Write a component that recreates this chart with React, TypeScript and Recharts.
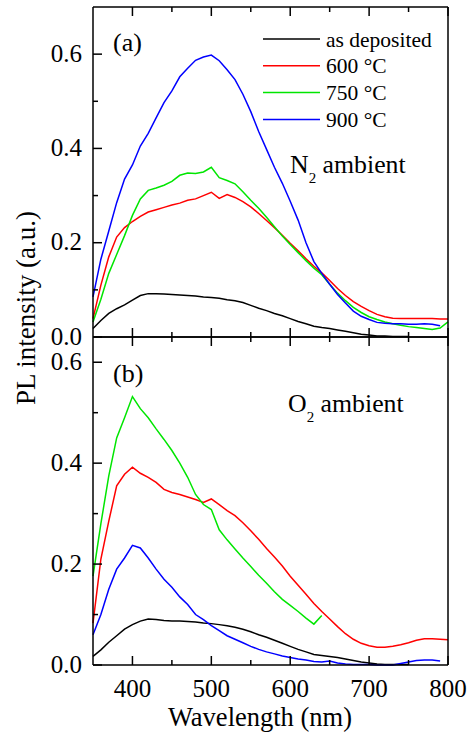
import React from 'react';
import { LineChart, Line, XAxis, YAxis, Legend } from 'recharts';

// wavelength grid (nm), shared by both panels
const wavelength = [
  350, 360, 370, 380, 390, 400, 410, 420, 430, 440, 450, 460, 470, 480, 490, 500,
  510, 520, 530, 540, 550, 560, 570, 580, 590, 600, 610, 620, 630, 640, 650, 660,
  670, 680, 690, 700, 710, 720, 730, 740, 750, 760, 770, 780, 790, 800,
];

// (a) N2 ambient
const asDepA = [
  0.018, 0.035, 0.05, 0.06, 0.068, 0.078, 0.088, 0.092, 0.092, 0.091, 0.09, 0.089, 0.088, 0.087, 0.085, 0.084,
  0.082, 0.079, 0.077, 0.073, 0.067, 0.061, 0.056, 0.05, 0.045, 0.039, 0.033, 0.028, 0.023, 0.02, 0.018, 0.015,
  0.012, 0.009, 0.006, 0.004, 0.002, 0.002, 0.001, 0.001, 0.001, null, null, null, null, null,
];
const t600A = [
  0.039, 0.11, 0.17, 0.212, 0.232, 0.245, 0.256, 0.265, 0.27, 0.275, 0.28, 0.284, 0.29, 0.293, 0.3, 0.307,
  0.294, 0.302, 0.296, 0.287, 0.276, 0.262, 0.247, 0.232, 0.216, 0.199, 0.183, 0.166, 0.15, 0.136, 0.12, 0.103,
  0.088, 0.075, 0.065, 0.056, 0.048, 0.043, 0.04, 0.039, 0.039, 0.039, 0.039, 0.039, 0.038, 0.038,
];
const t750A = [
  0.032, 0.08, 0.135, 0.175, 0.215, 0.258, 0.293, 0.311, 0.316, 0.322, 0.33, 0.343, 0.348, 0.347, 0.35, 0.36,
  0.338, 0.332, 0.325, 0.308, 0.29, 0.273, 0.254, 0.234, 0.214, 0.196, 0.179, 0.162, 0.146, 0.132, 0.112, 0.093,
  0.077, 0.063, 0.052, 0.043, 0.037, 0.032, 0.028, 0.025, 0.022, 0.02, 0.018, 0.016, 0.019, 0.032,
];
const t900A = [
  0.085, 0.165, 0.225, 0.285, 0.335, 0.365, 0.405, 0.432, 0.465, 0.497, 0.522, 0.552, 0.57, 0.587, 0.594, 0.598,
  0.586, 0.567, 0.546, 0.515, 0.478, 0.436, 0.398, 0.36, 0.326, 0.288, 0.248, 0.2, 0.16, 0.135, 0.112, 0.09,
  0.072, 0.055, 0.044, 0.037, 0.031, 0.029, 0.028, 0.028, 0.027, 0.027, 0.028, 0.027, 0.024, null,
];

// (b) O2 ambient
const asDepB = [
  0.017, 0.03, 0.045, 0.058, 0.071, 0.08, 0.087, 0.091, 0.09, 0.088, 0.087, 0.087, 0.086, 0.085, 0.083, 0.082,
  0.08, 0.078, 0.075, 0.071, 0.066, 0.06, 0.055, 0.049, 0.043, 0.037, 0.031, 0.026, 0.021, 0.019, 0.017, 0.015,
  0.012, 0.009, 0.006, 0.004, 0.002, 0.001, 0.001, 0.001, 0.001, null, null, null, null, null,
];
const t600B = [
  0.083, 0.21, 0.285, 0.355, 0.378, 0.392, 0.38, 0.372, 0.362, 0.348, 0.342, 0.338, 0.333, 0.328, 0.322, 0.329,
  0.318, 0.306, 0.296, 0.282, 0.266, 0.249, 0.231, 0.214, 0.196, 0.176, 0.158, 0.14, 0.122, 0.106, 0.091, 0.076,
  0.062, 0.051, 0.043, 0.038, 0.035, 0.035, 0.037, 0.04, 0.044, 0.049, 0.052, 0.052, 0.051, 0.05,
];
const t750B = [
  0.176, 0.28, 0.375, 0.45, 0.49, 0.532, 0.508, 0.49, 0.468, 0.447, 0.425, 0.4, 0.372, 0.338, 0.318, 0.308,
  0.268, 0.248, 0.23, 0.212, 0.195, 0.178, 0.162, 0.145, 0.13, 0.118, 0.106, 0.093, 0.081, 0.098, null, null,
  null, null, null, null, null, null, null, null, null, null, null, null, null, null,
];
const t900B = [
  0.06, 0.1, 0.15, 0.19, 0.212, 0.237, 0.232, 0.212, 0.19, 0.17, 0.154, 0.135, 0.12, 0.1, 0.09, 0.078,
  0.068, 0.058, 0.051, 0.044, 0.037, 0.031, 0.026, 0.022, 0.018, 0.015, 0.012, 0.01, 0.007, 0.006, 0.008, 0.004,
  0.002, 0.001, 0.001, 0.001, 0, 0, 0, 0.003, 0.006, 0.009, 0.01, 0.01, 0.008, null,
];

const seriesNames = ['as deposited', '600 °C', '750 °C', '900 °C'];
const seriesColors = ['#000000', '#ff0000', '#00e600', '#0000ff'];

const xTicks = [400, 450, 500, 550, 600, 650, 700, 750, 800];
const xMajor = [400, 500, 600, 700, 800];
const yTicks = [0, 0.1, 0.2, 0.3, 0.4, 0.5, 0.6];
const yMajor = [0, 0.2, 0.4, 0.6];

const FONT = '"Liberation Serif", "Times New Roman", Times, serif';

const buildRows = (s: (number | null)[][]) =>
  wavelength.map((wl, i) => ({ wl, s0: s[0][i], s1: s[1][i], s2: s[2][i], s3: s[3][i] }));

const rowsA = buildRows([asDepA, t600A, t750A, t900A]);
const rowsB = buildRows([asDepB, t600B, t750B, t900B]);

// inward tick marks (major/minor) with optional labels
function makeTick(side: 'top' | 'bottom' | 'left' | 'right', majors: number[], labels: boolean) {
  return (props: any) => {
    const { x, y, payload } = props;
    const v = payload.value;
    const major = majors.some((m) => Math.abs(m - v) < 1e-9);
    const len = major ? 9 : 5;
    let x2 = x, y2 = y;
    if (side === 'bottom') y2 = y - len;
    if (side === 'top') y2 = y + len;
    if (side === 'left') x2 = x + len;
    if (side === 'right') x2 = x - len;
    return (
      <g>
        <line x1={x} y1={y} x2={x2} y2={y2} stroke="#000" strokeWidth={1.5} />
        {labels && major && side === 'bottom' && (
          <text x={x} y={y + 32} textAnchor="middle" fontSize={25} style={{ fontFamily: FONT }} fill="#000">
            {v}
          </text>
        )}
        {labels && major && side === 'left' && (
          <text x={x - 11} y={y + 7.5} textAnchor="end" fontSize={25} style={{ fontFamily: FONT }} fill="#000">
            {v.toFixed(1)}
          </text>
        )}
      </g>
    );
  };
}

// keep legend in series order (recharts sorts by value otherwise)
const LegendBox = (props: any) => {
  const items = [...(props.payload || [])].sort(
    (a: any, b: any) => seriesNames.indexOf(a.value) - seriesNames.indexOf(b.value)
  );
  return (
    <svg width={200} height={110}>
      {items.map((it: any, i: number) => (
        <g key={i}>
          <line x1={1} x2={58} y1={12 + i * 26.8} y2={12 + i * 26.8} stroke={it.color} strokeWidth={1.5} />
          <text x={64} y={19.5 + i * 26.8} fontSize={21.5} style={{ fontFamily: FONT }} fill="#000">
            {it.value}
          </text>
        </g>
      ))}
    </svg>
  );
};

function Panel({ rows, yMax, top, height, margin, legend, xLabels }: any) {
  const axisStyle = { stroke: '#000', strokeWidth: 1.5 };
  return (
    <div style={{ position: 'absolute', left: 0, top }}>
      <LineChart width={470} height={height} data={rows} margin={margin}>
        <XAxis dataKey="wl" type="number" domain={[350, 800]} ticks={xTicks} interval={0}
          height={1} axisLine={axisStyle} tickLine={false} tickSize={0} tickMargin={0}
          tick={makeTick('bottom', xMajor, xLabels)} />
        <XAxis xAxisId="top" orientation="top" dataKey="wl" type="number" domain={[350, 800]}
          ticks={xTicks} interval={0} height={1} axisLine={axisStyle} tickLine={false}
          tickSize={0} tickMargin={0} tick={makeTick('top', xMajor, false)} />
        <YAxis type="number" domain={[0, yMax]} ticks={yTicks} interval={0} width={1}
          axisLine={axisStyle} tickLine={false} tickSize={0} tickMargin={0}
          tick={makeTick('left', yMajor, true)} />
        <YAxis yAxisId="r" orientation="right" type="number" domain={[0, yMax]} ticks={yTicks}
          interval={0} width={1} axisLine={axisStyle} tickLine={false} tickSize={0} tickMargin={0}
          tick={makeTick('right', yMajor, false)} />
        {seriesNames.map((name, i) => (
          <Line key={name} dataKey={`s${i}`} name={name} stroke={seriesColors[i]} strokeWidth={1.5}
            dot={false} type="linear" isAnimationActive={false} />
        ))}
        {legend && (
          <Legend layout="vertical" align="center" verticalAlign="middle" content={LegendBox}
            wrapperStyle={{ left: 262, top: 27, width: 200, height: 110 }} />
        )}
      </LineChart>
    </div>
  );
}

export default function App() {
  return (
    <div style={{ position: 'absolute', left: 0, top: 0, width: 470, height: 734, background: '#fff' }}>
      <Panel rows={rowsA} yMax={0.7} top={0} height={360} legend xLabels={false}
        margin={{ top: 6, right: 21, bottom: 22, left: 92 }} />
      <Panel rows={rowsB} yMax={0.65} top={317} height={417} legend={false} xLabels
        margin={{ top: 19, right: 21, bottom: 68, left: 92 }} />
      <svg width={470} height={734} style={{ position: 'absolute', left: 0, top: 0, pointerEvents: 'none', fontFamily: FONT }}
        fill="#000">
        <text transform="translate(35,308) rotate(-90)" textAnchor="middle" fontSize={27}>
          PL intensity (a.u.)
        </text>
        <text x={260} y={726} textAnchor="middle" fontSize={26.5}>Wavelength (nm)</text>
        <text x={113} y={51} fontSize={26}>(a)</text>
        <text x={113} y={381.5} fontSize={26}>(b)</text>
        <text x={290} y={172.7} fontSize={25.8}>
          N<tspan fontSize={15} dy={10}>2</tspan><tspan dy={-10}> ambient</tspan>
        </text>
        <text x={288} y={412} fontSize={25.8}>
          O<tspan fontSize={15} dy={10}>2</tspan><tspan dy={-10}> ambient</tspan>
        </text>
      </svg>
    </div>
  );
}
